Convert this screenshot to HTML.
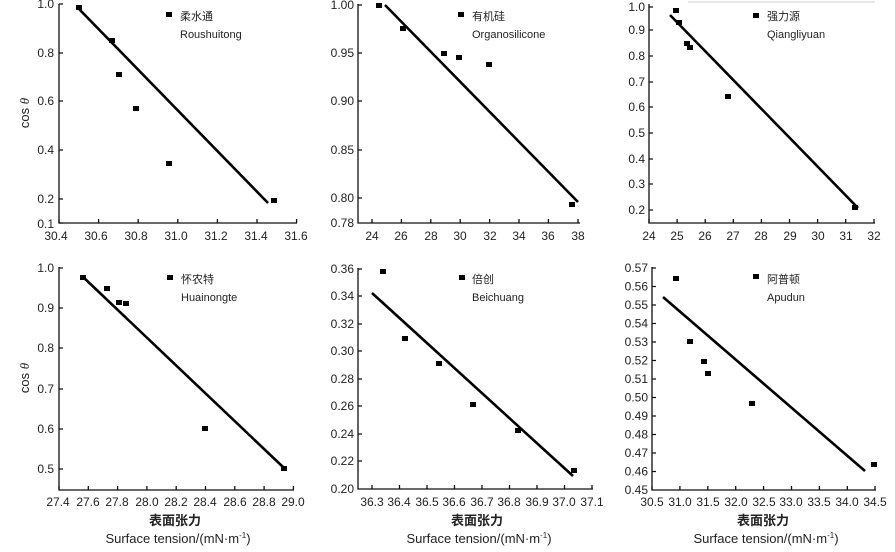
<!DOCTYPE html>
<html><head><meta charset="utf-8"><style>
html,body{margin:0;padding:0;background:#fff;}
svg{display:block;}
text{font-family:"Liberation Sans","Noto Sans CJK SC",sans-serif;fill:#222;}
.t{font-size:12px;}
.lg{font-size:11px;}
</style></head><body>
<svg width="895" height="552" viewBox="0 0 895 552" xmlns="http://www.w3.org/2000/svg">
<g stroke="#111" fill="none" stroke-width="1.3">
<path d="M59,4 V223 H297"/>
<path d="M59,4h4M59,53h4M59,101h4M59,150h4M59,199h4M59,223h4"/>
<path d="M59,223v-4M98.6,223v-4M138.2,223v-4M177.8,223v-4M217.4,223v-4M257,223v-4M296.6,223v-4"/>
<path d="M358,4 V223 H580"/>
<path d="M358,5h4M358,53h4M358,101h4M358,150h4M358,198h4"/>
<path d="M372,223v-4M401.4,223v-4M430.8,223v-4M460.2,223v-4M489.6,223v-4M519,223v-4M548.4,223v-4M578,223v-4"/>
<path d="M649,4 V223 H875"/>
<path d="M649,7h4M649,30h4M649,56h4M649,82h4M649,107h4M649,133h4M649,159h4M649,184h4M649,210h4"/>
<path d="M649,223v-4M677.1,223v-4M705.2,223v-4M733.3,223v-4M761.4,223v-4M789.5,223v-4M817.6,223v-4M845.7,223v-4M874,223v-4"/>
<path d="M59,267 V490 H294"/>
<path d="M59,268h4M59,308h4M59,348h4M59,389h4M59,429h4M59,469h4"/>
<path d="M59,490v-4M88.3,490v-4M117.6,490v-4M146.9,490v-4M176.2,490v-4M205.5,490v-4M234.8,490v-4M264.1,490v-4M293.4,490v-4"/>
<path d="M358,268 V489 H593"/>
<path d="M358,269h4M358,296h4M358,324h4M358,351h4M358,379h4M358,406h4M358,434h4M358,461h4"/>
<path d="M372,489v-4M399.5,489v-4M427,489v-4M454.5,489v-4M482,489v-4M509.5,489v-4M537,489v-4M564.5,489v-4M592,489v-4"/>
<path d="M652,267 V490 H876"/>
<path d="M652,268h4M652,286.5h4M652,305h4M652,323.5h4M652,342h4M652,360.5h4M652,379h4M652,397.5h4M652,416h4M652,434.5h4M652,453h4M652,471.5h4"/>
<path d="M652,490v-4M679.9,490v-4M707.8,490v-4M735.7,490v-4M763.6,490v-4M791.5,490v-4M819.4,490v-4M847.3,490v-4M875,490v-4"/>
<path d="M688,2H875" stroke="#ccc" stroke-width="1"/>
</g>
<g stroke="#000" stroke-width="2.6">
<line x1="79" y1="9" x2="268" y2="203"/>
<line x1="385" y1="5" x2="578" y2="202"/>
<line x1="670" y1="15" x2="858" y2="208"/>
<line x1="82" y1="276" x2="283" y2="467"/>
<line x1="372" y1="293" x2="573" y2="476"/>
<line x1="663" y1="297" x2="865" y2="471"/>
</g>
<g fill="#000">
<rect x="76" y="5" width="6" height="5"/><rect x="109" y="38" width="6" height="5"/><rect x="116" y="72" width="6" height="5"/><rect x="133" y="106" width="6" height="5"/><rect x="166" y="161" width="6" height="5"/><rect x="271" y="198" width="6" height="5"/><rect x="166" y="12" width="6" height="5"/>
<rect x="376" y="3" width="6" height="5"/><rect x="400" y="26" width="6" height="5"/><rect x="441" y="51" width="6" height="5"/><rect x="456" y="55" width="6" height="5"/><rect x="486" y="62" width="6" height="5"/><rect x="569" y="202" width="6" height="5"/><rect x="458" y="12" width="6" height="5"/>
<rect x="673" y="8" width="6" height="5"/><rect x="676" y="20" width="6" height="5"/><rect x="684" y="41" width="6" height="5"/><rect x="687" y="45" width="6" height="5"/><rect x="725" y="94" width="6" height="5"/><rect x="852" y="205" width="6" height="5"/><rect x="753" y="13" width="6" height="5"/>
<rect x="80" y="275" width="6" height="5"/><rect x="104" y="286" width="6" height="5"/><rect x="116" y="300" width="6" height="5"/><rect x="123" y="301" width="6" height="5"/><rect x="202" y="426" width="6" height="5"/><rect x="281" y="466" width="6" height="5"/><rect x="167" y="275" width="6" height="5"/>
<rect x="380" y="269" width="6" height="5"/><rect x="402" y="336" width="6" height="5"/><rect x="436" y="361" width="6" height="5"/><rect x="470" y="402" width="6" height="5"/><rect x="515" y="428" width="6" height="5"/><rect x="571" y="468" width="6" height="5"/><rect x="459" y="275" width="6" height="5"/>
<rect x="673" y="276" width="6" height="5"/><rect x="687" y="339" width="6" height="5"/><rect x="701" y="359" width="6" height="5"/><rect x="705" y="371" width="6" height="5"/><rect x="749" y="401" width="6" height="5"/><rect x="871" y="462" width="6" height="5"/><rect x="753" y="274" width="6" height="5"/>
</g>
<g class="lg">
<text x="180" y="20">柔水通</text><text x="180" y="38">Roushuitong</text>
<text x="472" y="20">有机硅</text><text x="472" y="38">Organosilicone</text>
<text x="767" y="20">强力源</text><text x="767" y="38">Qiangliyuan</text>
<text x="181" y="283">怀农特</text><text x="181" y="301">Huainongte</text>
<text x="472" y="283">倍创</text><text x="472" y="301">Beichuang</text>
<text x="767" y="283">阿普顿</text><text x="767" y="301">Apudun</text>
</g>
<g class="t" text-anchor="end">
<text x="54" y="8">1.0</text><text x="54" y="57">0.8</text><text x="54" y="105">0.6</text><text x="54" y="154">0.4</text><text x="54" y="203">0.2</text><text x="54" y="228">0.1</text>
<text x="354" y="9">1.00</text><text x="354" y="57">0.95</text><text x="354" y="105">0.90</text><text x="354" y="154">0.85</text><text x="354" y="202">0.80</text><text x="354" y="227">0.78</text>
<text x="645" y="11">1.0</text><text x="645" y="34">0.9</text><text x="645" y="60">0.8</text><text x="645" y="86">0.7</text><text x="645" y="111">0.6</text><text x="645" y="137">0.5</text><text x="645" y="163">0.4</text><text x="645" y="188">0.3</text><text x="645" y="214">0.2</text>
<text x="54" y="272">1.0</text><text x="54" y="312">0.9</text><text x="54" y="352">0.8</text><text x="54" y="393">0.7</text><text x="54" y="433">0.6</text><text x="54" y="473">0.5</text>
<text x="354" y="273">0.36</text><text x="354" y="300">0.34</text><text x="354" y="328">0.32</text><text x="354" y="355">0.30</text><text x="354" y="383">0.28</text><text x="354" y="410">0.26</text><text x="354" y="438">0.24</text><text x="354" y="465">0.22</text><text x="354" y="493">0.20</text>
<text x="648" y="272">0.57</text><text x="648" y="290.5">0.56</text><text x="648" y="309">0.55</text><text x="648" y="327.5">0.54</text><text x="648" y="346">0.53</text><text x="648" y="364.5">0.52</text><text x="648" y="383">0.51</text><text x="648" y="401.5">0.50</text><text x="648" y="420">0.49</text><text x="648" y="438.5">0.48</text><text x="648" y="457">0.47</text><text x="648" y="475.5">0.46</text><text x="648" y="494">0.45</text>
</g>
<g class="t" text-anchor="middle">
<text x="56" y="240">30.4</text><text x="96" y="240">30.6</text><text x="136" y="240">30.8</text><text x="176" y="240">31.0</text><text x="216" y="240">31.2</text><text x="256" y="240">31.4</text><text x="296" y="240">31.6</text>
<text x="372" y="240">24</text><text x="401" y="240">26</text><text x="431" y="240">28</text><text x="460" y="240">30</text><text x="490" y="240">32</text><text x="519" y="240">34</text><text x="548" y="240">36</text><text x="578" y="240">38</text>
<text x="649" y="240">24</text><text x="677" y="240">25</text><text x="705" y="240">26</text><text x="733" y="240">27</text><text x="761" y="240">28</text><text x="790" y="240">29</text><text x="818" y="240">30</text><text x="846" y="240">31</text><text x="874" y="240">32</text>
<text x="58" y="506">27.4</text><text x="88" y="506">27.6</text><text x="117" y="506">27.8</text><text x="147" y="506">28.0</text><text x="176" y="506">28.2</text><text x="205" y="506">28.4</text><text x="235" y="506">28.6</text><text x="264" y="506">28.8</text><text x="293" y="506">29.0</text>
<text x="372" y="506">36.3</text><text x="399" y="506">36.4</text><text x="427" y="506">36.5</text><text x="454" y="506">36.6</text><text x="482" y="506">36.7</text><text x="509" y="506">36.8</text><text x="537" y="506">36.9</text><text x="564" y="506">37.0</text><text x="592" y="506">37.1</text>
<text x="652" y="506">30.5</text><text x="680" y="506">31.0</text><text x="708" y="506">31.5</text><text x="736" y="506">32.0</text><text x="764" y="506">32.5</text><text x="791" y="506">33.0</text><text x="819" y="506">33.5</text><text x="847" y="506">34.0</text><text x="875" y="506">34.5</text>
</g>
<g class="t">
<text transform="translate(29,113) rotate(-90)" text-anchor="middle" style="font-size:13px">cos <tspan font-style="italic" font-family="Liberation Serif">θ</tspan></text>
<text transform="translate(29,378) rotate(-90)" text-anchor="middle" style="font-size:13px">cos <tspan font-style="italic" font-family="Liberation Serif">θ</tspan></text>
<g text-anchor="middle" style="font-size:13px">
<text x="175" y="525" font-weight="bold">表面张力</text><text x="178" y="543">Surface tension/(mN·m<tspan dy="-5" font-size="8">-1</tspan><tspan dy="5">)</tspan></text>
<text x="477" y="525" font-weight="bold">表面张力</text><text x="479" y="543">Surface tension/(mN·m<tspan dy="-5" font-size="8">-1</tspan><tspan dy="5">)</tspan></text>
<text x="763" y="525" font-weight="bold">表面张力</text><text x="766" y="543">Surface tension/(mN·m<tspan dy="-5" font-size="8">-1</tspan><tspan dy="5">)</tspan></text>
</g>
</g>
</svg>
</body></html>
